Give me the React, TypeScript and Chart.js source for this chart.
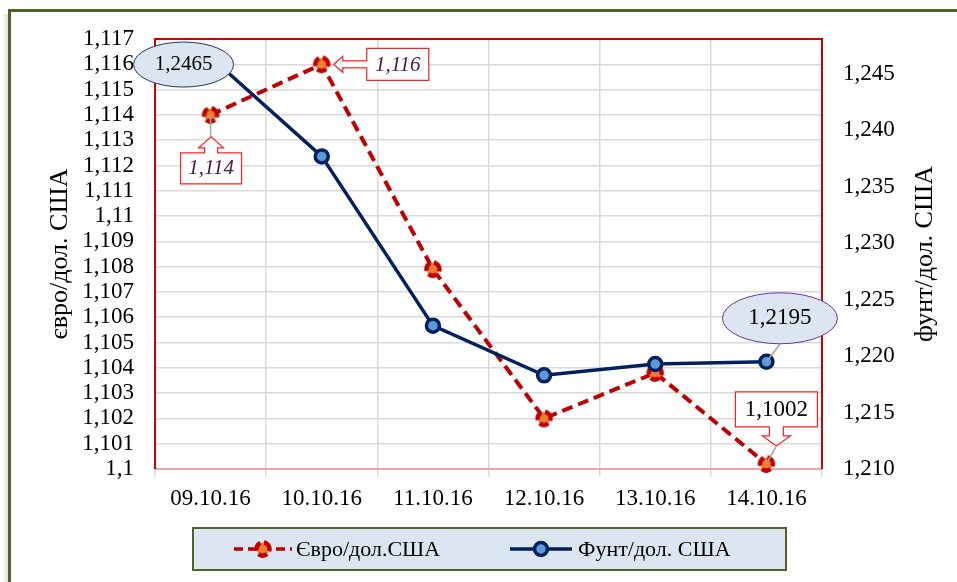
import React, { useEffect, useRef } from 'react';
import { Chart, registerables } from 'chart.js';

Chart.register(...registerables);

// ---- data ----
const categories = ['09.10.16', '10.10.16', '11.10.16', '12.10.16', '13.10.16', '14.10.16'];
const euroValues = [1.114, 1.116, 1.1079, 1.102, 1.1038, 1.1002];
const poundValues = [1.2465, 1.2377, 1.2227, 1.2183, 1.2193, 1.2195];
const euroName = 'Євро/дол.США';
const poundName = 'Фунт/дол. США';
const leftTitle = 'євро/дол. США';
const rightTitle = 'фунт/дол. США';
const leftMin = 1.1;
const leftMax = 1.117;
const leftStep = 0.001;
const rightMin = 1.21;
const rightMax = 1.2481;
const rightStep = 0.005;
const rightLastTick = 1.245;

const FONT = "'Liberation Serif', 'Times New Roman', serif";

const fmtGeneral = (v: number) => String(parseFloat(v.toFixed(4))).replace('.', ',');
const fmtRight = (v: number) => v.toFixed(3).replace('.', ',');

function makeEuroMarker(): HTMLCanvasElement {
  const c = document.createElement('canvas');
  c.width = 22;
  c.height = 22;
  const x = c.getContext('2d')!;
  x.beginPath();
  x.arc(11, 11, 6.5, 0, Math.PI * 2);
  x.fillStyle = '#ED7D31';
  x.fill();
  x.beginPath();
  x.arc(11, 11, 6.5, -Math.PI / 2 + 0.5, Math.PI * 1.5 + 0.5);
  x.setLineDash([9, 3.5]);
  x.lineWidth = 4.5;
  x.strokeStyle = '#C00000';
  x.stroke();
  return c;
}

function drawCallout(
  ctx: CanvasRenderingContext2D,
  dir: 'up' | 'down' | 'left',
  ax: number,
  ay: number,
  cx: number,
  cy: number,
  w: number,
  h: number
) {
  const l = cx - w / 2, r = cx + w / 2, t = cy - h / 2, b = cy + h / 2;
  ctx.beginPath();
  if (dir === 'up') {
    const hb = t - 5, sh = 6.5, hh = 12.5;
    ctx.moveTo(l, t);
    ctx.lineTo(ax - sh, t);
    ctx.lineTo(ax - sh, hb);
    ctx.lineTo(ax - hh, hb);
    ctx.lineTo(ax, ay);
    ctx.lineTo(ax + hh, hb);
    ctx.lineTo(ax + sh, hb);
    ctx.lineTo(ax + sh, t);
    ctx.lineTo(r, t);
    ctx.lineTo(r, b);
    ctx.lineTo(l, b);
  } else if (dir === 'down') {
    const hb = b + 9, sh = 7, hh = 14;
    ctx.moveTo(l, t);
    ctx.lineTo(r, t);
    ctx.lineTo(r, b);
    ctx.lineTo(ax + sh, b);
    ctx.lineTo(ax + sh, hb);
    ctx.lineTo(ax + hh, hb);
    ctx.lineTo(ax, ay);
    ctx.lineTo(ax - hh, hb);
    ctx.lineTo(ax - sh, hb);
    ctx.lineTo(ax - sh, b);
    ctx.lineTo(l, b);
  } else {
    const hb = ax + 9, sh = 3.5, hh = 8;
    ctx.moveTo(l, t);
    ctx.lineTo(r, t);
    ctx.lineTo(r, b);
    ctx.lineTo(l, b);
    ctx.lineTo(l, ay + sh);
    ctx.lineTo(hb, ay + sh);
    ctx.lineTo(hb, ay + hh);
    ctx.lineTo(ax, ay);
    ctx.lineTo(hb, ay - hh);
    ctx.lineTo(hb, ay - sh);
    ctx.lineTo(l, ay - sh);
  }
  ctx.closePath();
  ctx.fillStyle = '#FFFFFF';
  ctx.fill();
  ctx.lineWidth = 1.2;
  ctx.strokeStyle = '#FF2020';
  ctx.stroke();
}

function leader(ctx: CanvasRenderingContext2D, x1: number, y1: number, x2: number, y2: number) {
  ctx.beginPath();
  ctx.moveTo(x1, y1);
  ctx.lineTo(x2, y2);
  ctx.lineWidth = 1.5;
  ctx.strokeStyle = '#A6A6A6';
  ctx.stroke();
}

function text(ctx: CanvasRenderingContext2D, s: string, x: number, y: number, font: string, color: string) {
  ctx.font = font;
  ctx.fillStyle = color;
  ctx.textAlign = 'center';
  ctx.textBaseline = 'middle';
  ctx.fillText(s, x, y);
}

export default function App() {
  const ref = useRef<HTMLCanvasElement | null>(null);

  useEffect(() => {
    if (!ref.current) return;
    const euroMarker = makeEuroMarker();

    const decor = {
      id: 'decor',
      beforeDraw(chart: any) {
        const { ctx, width, height } = chart;
        ctx.save();
        ctx.fillStyle = '#FFFFFF';
        ctx.fillRect(0, 0, width, height);
        const g = ctx.createLinearGradient(2, 0, 8, 0);
        g.addColorStop(0, 'rgba(200,200,200,0)');
        g.addColorStop(1, 'rgba(190,190,190,0.5)');
        ctx.fillStyle = g;
        ctx.fillRect(2, 14, 6, height);
        ctx.strokeStyle = '#4F6228';
        ctx.lineWidth = 3;
        ctx.beginPath();
        ctx.moveTo(9.5, height + 5);
        ctx.lineTo(9.5, 10.5);
        ctx.lineTo(width + 5, 10.5);
        ctx.stroke();
        ctx.restore();
      },
      beforeDatasetsDraw(chart: any) {
        const { ctx, chartArea: a } = chart;
        ctx.save();
        ctx.lineWidth = 2;
        ctx.strokeStyle = '#EBA6A6';
        ctx.beginPath();
        ctx.moveTo(a.left, a.bottom);
        ctx.lineTo(a.right, a.bottom);
        ctx.stroke();
        ctx.strokeStyle = '#D00000';
        ctx.beginPath();
        ctx.moveTo(a.left, a.bottom);
        ctx.lineTo(a.left, a.top);
        ctx.lineTo(a.right, a.top);
        ctx.lineTo(a.right, a.bottom);
        ctx.stroke();
        ctx.restore();
      },
      afterDatasetsDraw(chart: any) {
        const { ctx } = chart;
        const e = chart.getDatasetMeta(0).data;
        const p = chart.getDatasetMeta(1).data;
        ctx.save();
        const itFont = `italic 21px ${FONT}`;
        const maroon = '#4A1942';
        {
          const pt = e[0];
          leader(ctx, pt.x, pt.y, pt.x, pt.y + 22);
          drawCallout(ctx, 'up', pt.x + 0.5, pt.y + 22, pt.x + 0.5, pt.y + 53.5, 61, 31);
          text(ctx, fmtGeneral(euroValues[0]), pt.x + 0.5, pt.y + 54, itFont, maroon);
        }
        {
          const pt = e[1];
          drawCallout(ctx, 'left', pt.x + 12, pt.y, pt.x + 76, pt.y, 62, 32);
          text(ctx, fmtGeneral(euroValues[1]), pt.x + 76, pt.y + 1, itFont, maroon);
        }
        {
          const pt = e[5];
          drawCallout(ctx, 'down', pt.x + 10, pt.y - 18, pt.x + 10, pt.y - 54.5, 82, 35);
          leader(ctx, pt.x + 10, pt.y - 18, pt.x, pt.y);
          text(ctx, fmtGeneral(euroValues[5]), pt.x + 10, pt.y - 54, `23px ${FONT}`, '#000000');
        }
        {
          const pt = p[0];
          const cx = pt.x - 27, cy = pt.y + 7.5;
          ctx.beginPath();
          ctx.ellipse(cx, cy, 50, 22.5, 0, 0, Math.PI * 2);
          ctx.fillStyle = '#DCE6F2';
          ctx.fill();
          ctx.lineWidth = 1;
          ctx.strokeStyle = '#1F3864';
          ctx.stroke();
          text(ctx, fmtGeneral(poundValues[0]), cx, cy, `21px ${FONT}`, '#000000');
        }
        {
          const pt = p[5];
          const cx = pt.x + 13.5, cy = pt.y - 43.5;
          leader(ctx, cx, cy + 26, pt.x, pt.y);
          ctx.beginPath();
          ctx.ellipse(cx, cy, 57.5, 25.5, 0, 0, Math.PI * 2);
          ctx.fillStyle = '#DCE6F2';
          ctx.fill();
          ctx.lineWidth = 1;
          ctx.strokeStyle = '#7030A0';
          ctx.stroke();
          text(ctx, fmtGeneral(poundValues[5]), cx, cy, `23px ${FONT}`, '#000000');
        }
        ctx.restore();
      },
      afterDraw(chart: any) {
        const { ctx, chartArea: a } = chart;
        ctx.save();
        const cy = (a.top + a.bottom) / 2;
        ctx.font = `26px ${FONT}`;
        ctx.fillStyle = '#000000';
        ctx.textAlign = 'center';
        ctx.textBaseline = 'middle';
        ctx.save();
        ctx.translate(60, cy);
        ctx.rotate(-Math.PI / 2);
        ctx.fillText(leftTitle, 0, 0);
        ctx.restore();
        ctx.save();
        ctx.translate(925, cy);
        ctx.rotate(-Math.PI / 2);
        ctx.fillText(rightTitle, 0, 0);
        ctx.restore();

        const lx = 193, ly = 528, lw = 593, lh = 42;
        ctx.fillStyle = '#DCE6F2';
        ctx.fillRect(lx, ly, lw, lh);
        ctx.lineWidth = 2;
        ctx.strokeStyle = '#4F6228';
        ctx.strokeRect(lx, ly, lw, lh);
        const my = ly + lh / 2;
        ctx.beginPath();
        ctx.setLineDash([9, 5]);
        ctx.lineWidth = 3.5;
        ctx.strokeStyle = '#C00000';
        ctx.moveTo(234, my);
        ctx.lineTo(292, my);
        ctx.stroke();
        ctx.setLineDash([]);
        ctx.drawImage(euroMarker, 263 - 11, my - 11);
        ctx.beginPath();
        ctx.lineWidth = 3.5;
        ctx.strokeStyle = '#002060';
        ctx.moveTo(510, my);
        ctx.lineTo(572, my);
        ctx.stroke();
        ctx.beginPath();
        ctx.arc(541, my, 6.5, 0, Math.PI * 2);
        ctx.fillStyle = '#5B9BD5';
        ctx.fill();
        ctx.lineWidth = 3.5;
        ctx.strokeStyle = '#002060';
        ctx.stroke();
        ctx.font = `22px ${FONT}`;
        ctx.fillStyle = '#000000';
        ctx.textAlign = 'left';
        ctx.textBaseline = 'middle';
        ctx.fillText(euroName, 296, my + 1);
        ctx.fillText(poundName, 578, my + 1);
        ctx.restore();
      },
    };

    const tickFont = { family: FONT, size: 23, lineHeight: 1.0 };

    const chart = new Chart(ref.current, {
      type: 'line',
      data: {
        labels: categories,
        datasets: [
          {
            label: euroName,
            data: euroValues,
            yAxisID: 'y',
            order: 2,
            borderColor: '#C00000',
            borderWidth: 4,
            borderDash: [11, 6],
            pointStyle: euroMarker as any,
            pointRadius: 8,
            backgroundColor: '#ED7D31',
            tension: 0,
            clip: false as any,
          },
          {
            label: poundName,
            data: poundValues,
            yAxisID: 'y1',
            order: 1,
            borderColor: '#002060',
            borderWidth: 3.5,
            pointRadius: 6.5,
            pointBorderWidth: 3.5,
            pointBackgroundColor: '#5B9BD5',
            pointBorderColor: '#002060',
            backgroundColor: '#5B9BD5',
            tension: 0,
            clip: false as any,
          },
        ],
      },
      options: {
        responsive: false,
        animation: false,
        devicePixelRatio: 1,
        layout: { padding: { left: 10, right: 19, top: 39, bottom: 53 } },
        plugins: {
          legend: { display: false },
          tooltip: { enabled: false },
        },
        scales: {
          x: {
            offset: true,
            grid: { offset: true, color: '#D9D9D9', lineWidth: 1.5, tickLength: 8, drawTicks: true },
            border: { display: false },
            ticks: { padding: 8, color: '#000000', font: { family: FONT, size: 23 }, maxRotation: 0, autoSkip: false },
            afterFit: (s: any) => { s.height = 60; },
          },
          y: {
            position: 'left',
            min: leftMin,
            max: leftMax,
            grid: { color: '#D9D9D9', lineWidth: 1.5, drawTicks: false },
            border: { display: false },
            ticks: {
              stepSize: leftStep,
              autoSkip: false,
              padding: 21,
              color: '#000000',
              font: tickFont,
              callback: (v: any) => fmtGeneral(Number(v)),
            },
            afterFit: (s: any) => { s.width = 145; },
          },
          y1: {
            position: 'right',
            min: rightMin,
            max: rightMax,
            grid: { drawOnChartArea: false, drawTicks: false },
            border: { display: false },
            ticks: {
              stepSize: rightStep,
              autoSkip: false,
              padding: 21,
              color: '#000000',
              font: tickFont,
              callback: (v: any) => fmtRight(Number(v)),
            },
            afterBuildTicks: (s: any) => {
              s.ticks = s.ticks.filter((t: any) => t.value <= rightLastTick + 1e-6);
            },
            afterFit: (s: any) => { s.width = 116; },
          },
        },
      },
      plugins: [decor],
    });
    return () => chart.destroy();
  }, []);

  return (
    <div style={{ position: 'fixed', left: 0, top: 0, width: 957, height: 582, overflow: 'hidden', background: '#fff' }}>
      <canvas ref={ref} width={957} height={582} style={{ display: 'block' }} />
    </div>
  );
}
